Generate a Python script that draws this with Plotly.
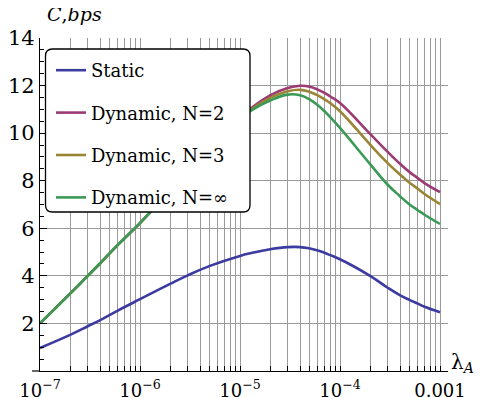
import plotly.graph_objects as go

# ---- data ----
lam = [1e-7, 2e-7, 3e-7, 4e-7, 6e-7, 1e-6, 2e-6, 3e-6, 5e-6, 1e-5, 1.3e-5,
       2e-5, 3e-5, 4e-5, 5e-5, 6e-5, 7e-5, 8e-5, 1e-4, 2e-4, 3e-4, 4e-4,
       5e-4, 6e-4, 7e-4, 1e-3]

static = [0.97, 1.52, 1.88, 2.14, 2.54, 3.02, 3.66, 4.02, 4.42, 4.84, 4.96,
          5.12, 5.21, 5.21, 5.15, 5.07, 4.97, 4.87, 4.70, 4.00, 3.50, 3.18,
          2.98, 2.83, 2.70, 2.47]

dyn_n2 = [2.00, 3.25, 4.00, 4.53, 5.30, 6.22, 7.57, 8.33, 9.30, 10.68, 11.06,
          11.59, 11.90, 11.99, 11.95, 11.83, 11.69, 11.54, 11.27, 9.97, 9.21,
          8.70, 8.35, 8.11, 7.90, 7.52]

dyn_n3 = [2.00, 3.25, 4.00, 4.53, 5.30, 6.22, 7.56, 8.32, 9.28, 10.64, 11.00,
          11.48, 11.76, 11.82, 11.73, 11.59, 11.42, 11.26, 10.92, 9.52, 8.74,
          8.25, 7.90, 7.66, 7.44, 7.02]

dyn_inf = [2.00, 3.25, 4.00, 4.53, 5.30, 6.22, 7.55, 8.30, 9.25, 10.60, 10.96,
           11.37, 11.62, 11.59, 11.41, 11.17, 10.92, 10.67, 10.22, 8.70, 7.83,
           7.34, 6.99, 6.76, 6.57, 6.18]

series_names = ["Static", "Dynamic, N=2", "Dynamic, N=3", "Dynamic, N=∞"]
series_values = [static, dyn_n2, dyn_n3, dyn_inf]
series_colors = ["#3b3ba0", "#9c3a74", "#9a8536", "#3a9a55"]

decades = [1e-7, 1e-6, 1e-5, 1e-4, 1e-3]
decade_labels = ["10<sup>−7</sup>", "10<sup>−6</sup>", "10<sup>−5</sup>",
                 "10<sup>−4</sup>", "0.001"]
y_ticks = [2, 4, 6, 8, 10, 12, 14]

# ---- tick positions on the log axis ----
x_tickvals, x_ticktext = [], []
for d, lab in zip(decades, decade_labels):
    for m in range(1, 10):
        v = d * m
        if v > 1.0001e-3:
            break
        x_tickvals.append(v)
        x_ticktext.append(lab if m == 1 else "")

y_minor = [i * 0.5 for i in range(0, 29)]

FONT = "DejaVu Serif"

fig = go.Figure()
for i, (name, vals, col) in enumerate(zip(series_names, series_values, series_colors)):
    fig.add_trace(go.Scatter(
        x=lam, y=vals, mode="lines", name=name,
        line=dict(color=col, width=2.6, shape="spline", smoothing=1.2),
        legendgroup=f"g{i}",
    ))

# figure is placed 8px in from the page corner (default body margin)
W, H = 476, 390
ml, mr, mt, mb = 32, 36, 30, 27
pw, ph = W - ml - mr, H - mt - mb


def px(fx):
    return (fx - ml) / pw


def py(fy):
    return (H - mb - fy) / ph


# rounded legend box (paper coords)
bx0, bx1 = px(37.5), px(242)
by1, by0 = py(41), py(204)
rx, ry = 7 / pw, 7 / ph
path = (f"M {bx0+rx},{by0} L {bx1-rx},{by0} Q {bx1},{by0} {bx1},{by0+ry} "
        f"L {bx1},{by1-ry} Q {bx1},{by1} {bx1-rx},{by1} L {bx0+rx},{by1} "
        f"Q {bx0},{by1} {bx0},{by1-ry} L {bx0},{by0+ry} Q {bx0},{by0} {bx0+rx},{by0} Z")

fig.update_layout(
    width=W, height=H,
    margin=dict(l=ml, r=mr, t=mt, b=mb, pad=0, autoexpand=False),
    paper_bgcolor="white", plot_bgcolor="white",
    font=dict(family=FONT, size=18, color="black"),
    showlegend=True,
    legend=dict(
        x=px(43), y=py(44), xanchor="left", yanchor="top",
        bgcolor="rgba(0,0,0,0)", borderwidth=0,
        font=dict(family=FONT, size=18, color="black"),
        tracegroupgap=16, itemwidth=30,
    ),
    xaxis=dict(
        type="log", range=[-7, -2.92], automargin=False,
        tickmode="array", tickvals=x_tickvals, ticktext=x_ticktext,
        showgrid=True, gridcolor="#9a9a9a", gridwidth=1,
        ticks="inside", ticklen=5, tickcolor="black", tickwidth=1,
        showline=True, linecolor="black", linewidth=1.2,
        tickfont=dict(family=FONT, size=18, color="black"),
        ticklabelstandoff=3,
        zeroline=False,
    ),
    yaxis=dict(
        range=[0, 14], automargin=False,
        tickmode="array", tickvals=y_ticks,
        showgrid=True, gridcolor="#9a9a9a", gridwidth=1,
        ticks="inside", ticklen=7, tickcolor="black", tickwidth=1,
        minor=dict(tickmode="array", tickvals=y_minor, ticks="inside",
                   ticklen=4, tickcolor="black", showgrid=False),
        showline=True, linecolor="black", linewidth=1.2,
        tickfont=dict(family=FONT, size=21, color="black"),
        ticklabelstandoff=0,
        zeroline=False,
    ),
    shapes=[
        dict(type="path", xref="paper", yref="paper", path=path,
             fillcolor="white", line=dict(color="black", width=1.3), layer="above"),
        dict(type="line", xref="paper", yref="paper",
             x0=px(24), x1=0, y0=0, y1=0,
             line=dict(color="black", width=1.2)),
    ],
    annotations=[
        dict(xref="paper", yref="paper", x=px(37), y=py(6),
             xanchor="left", yanchor="middle", showarrow=False,
             text="<i>C</i>,<i>bps</i>", font=dict(family=FONT, size=19, color="black")),
        dict(xref="paper", yref="paper", x=px(441), y=py(355),
             xanchor="left", yanchor="middle", showarrow=False,
             text="λ<sub><i>A</i></sub>", font=dict(family=FONT, size=20, color="black")),
    ],
)

fig.write_html("out.html")
